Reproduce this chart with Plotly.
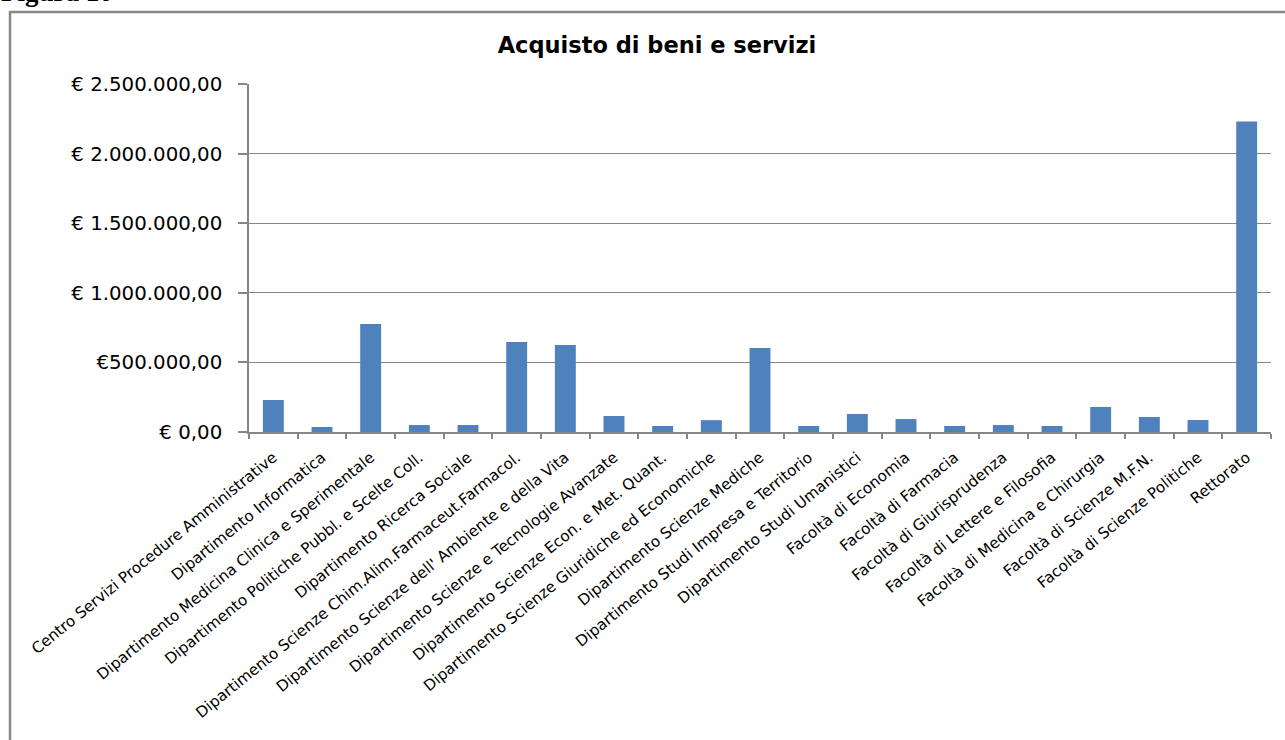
import plotly.graph_objects as go

categories = [
    "Centro Servizi Procedure Amministrative",
    "Dipartimento Informatica",
    "Dipartimento Medicina Clinica e Sperimentale",
    "Dipartimento Politiche Pubbl. e Scelte Coll.",
    "Dipartimento Ricerca Sociale",
    "Dipartimento Scienze Chim.Alim.Farmaceut.Farmacol.",
    "Dipartimento Scienze dell' Ambiente e della Vita",
    "Dipartimento Scienze e Tecnologie Avanzate",
    "Dipartimento Scienze Econ. e Met. Quant.",
    "Dipartimento Scienze Giuridiche ed Economiche",
    "Dipartimento Scienze Mediche",
    "Dipartimento Studi Impresa e Territorio",
    "Dipartimento Studi Umanistici",
    "Facoltà di Economia",
    "Facoltà di Farmacia",
    "Facoltà di Giurisprudenza",
    "Facoltà di Lettere e Filosofia",
    "Facoltà di Medicina e Chirurgia",
    "Facoltà di Scienze M.F.N.",
    "Facoltà di Scienze Politiche",
    "Rettorato",
]

values = [
    230000, 36000, 776000, 50000, 50000, 647000, 625000, 115000, 43000, 85000,
    603000, 43000, 129000, 93000, 43000, 50000, 43000, 180000, 108000, 86000,
    2230000,
]

y_tickvals = [0, 500000, 1000000, 1500000, 2000000, 2500000]
y_ticktext = ["€ 0,00", "€500.000,00", "€ 1.000.000,00", "€ 1.500.000,00",
              "€ 2.000.000,00", "€ 2.500.000,00"]

title_text = "Acquisto di beni e servizi"
figure_label = "Figura 10"

W, H = 1285, 740
L, R, T, B = 249, 1271, 84, 432
pw, ph = R - L, B - T

def px_x(p):
    return (p - L) / pw

def px_y(p):
    return (B - p) / ph

fig = go.Figure()
fig.add_trace(go.Bar(
    x=categories, y=values,
    marker=dict(color="#4F81BD", line=dict(width=0)),
    hoverinfo="x+y",
))

grid = "#868686"
fig.update_layout(
    width=W, height=H,
    margin=dict(l=L, r=W - R, t=T, b=H - B, pad=0),
    paper_bgcolor="white", plot_bgcolor="white",
    bargap=0.57,
    showlegend=False,
    font=dict(family="DejaVu Sans", color="black"),
    title=dict(
        text=title_text, xref="container", x=657 / W, xanchor="center",
        yref="container", y=1 - 45 / H, yanchor="middle",
        font=dict(family="DejaVu Sans", size=22.5, weight="bold", color="black"),
    ),
    xaxis=dict(
        type="category", tickangle=-39,
        tickfont=dict(family="DejaVu Sans", size=15.3, color="black"),
        showline=True, linecolor=grid, linewidth=1.5,
        ticks="outside", tickson="boundaries", ticklen=5, tickcolor=grid, tickwidth=1.5,
        showgrid=False, ticklabelstandoff=9,
    ),
    yaxis=dict(
        range=[0, 2500000], tickvals=y_tickvals, ticktext=y_ticktext,
        tickfont=dict(family="DejaVu Sans", size=19.8, color="black"),
        showline=True, linecolor=grid, linewidth=1.5,
        ticks="outside", ticklen=9, tickcolor=grid, tickwidth=1.5,
        showgrid=True, gridcolor=grid, gridwidth=1,
        zeroline=False, ticklabelstandoff=12,
    ),
    shapes=[
        dict(type="rect", xref="paper", yref="paper",
             x0=px_x(10), x1=px_x(1300), y0=px_y(760), y1=px_y(12),
             line=dict(color="#888888", width=2.5), fillcolor="rgba(0,0,0,0)",
             layer="below"),
    ],
    annotations=[
        dict(text="<b>" + figure_label + "</b>", xref="paper", yref="paper",
             x=px_x(-1), y=px_y(9), xanchor="left", yanchor="bottom",
             showarrow=False,
             font=dict(family="Liberation Serif", size=27, color="black")),
    ],
)

fig.write_html(
    "out.html",
    config={"displayModeBar": False},
    post_script="document.body.style.margin='0';document.body.style.overflow='hidden';",
)
